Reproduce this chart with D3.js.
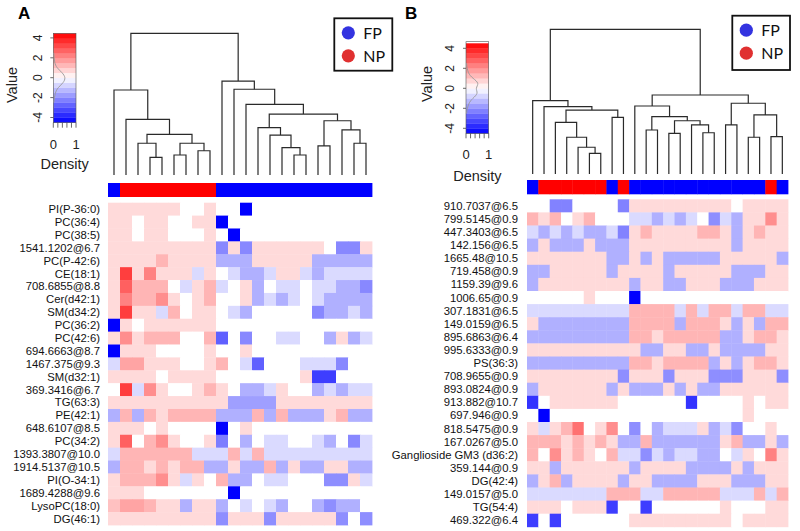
<!DOCTYPE html>
<html>
<head>
<meta charset="utf-8">
<script src="https://cdn.jsdelivr.net/npm/d3@7"></script>
<style>
  body { margin: 0; background: #fff; }
  svg { display: block; font-family: "Liberation Sans", Arial, sans-serif; }
</style>
</head>
<body>
<svg id="chart" width="800" height="531"></svg>
<script>
"use strict";

// ---- data: panel A ----
var rowsA = ["PI(P-36:0)", "PC(36:4)", "PC(38:5)", "1541.1202@6.7", "PC(P-42:6)", "CE(18:1)",
  "708.6855@8.8", "Cer(d42:1)", "SM(d34:2)", "PC(36:2)", "PC(42:6)", "694.6663@8.7",
  "1467.375@9.3", "SM(d32:1)", "369.3416@6.7", "TG(63:3)", "PE(42:1)", "648.6107@8.5",
  "PC(34:2)", "1393.3807@10.0", "1914.5137@10.5", "PI(O-34:1)", "1689.4288@9.6",
  "LysoPC(18:0)", "DG(46:1)"];

var groupsA = ["FP", "NP", "NP", "NP", "NP", "NP", "NP", "NP", "NP", "FP", "FP", "FP",
  "FP", "FP", "FP", "FP", "FP", "FP", "FP", "FP", "FP", "FP"];

var valuesA = [
  [.65,.65,.65,.65,.65,.65,0,0,.65,0,0,-4.5,0,0,0,0,0,0,0,0,0,0],
  [.65,.65,0,.65,.65,0,0,.65,.65,-4.5,0,0,0,0,0,0,0,0,0,0,0,0],
  [.65,.65,0,.65,.65,0,0,0,.65,0,-4.5,0,0,0,0,0,0,0,0,0,0,0],
  [.65,.65,.65,.65,.65,.65,.65,.65,.65,-2.1,.65,-2.1,.65,.65,.65,.65,.65,.65,0,-2.1,-2.1,.65],
  [.65,.65,.65,.65,1.3,.65,.65,.65,.65,-1.4,-1.4,-1.4,.65,.65,.65,.65,.65,-1.4,-1.4,-1.4,-1.4,-1.4],
  [.65,3.4,.65,2.2,.65,.65,.65,-.65,.65,0,-.65,-1.4,-1.4,-.65,.65,.65,-.65,-1.4,-.65,-.65,-.65,-.65],
  [.65,2.8,1.3,1.3,1.3,0,-.65,.65,1.3,-.65,0,.65,-1.4,0,-.65,-.65,0,-.65,-.65,-1.4,-1.4,-2.1],
  [.65,2.2,1.3,1.3,2.0,.65,0,.65,1.3,0,0,.65,-1.4,-.65,-1.4,-.65,0,-.65,-1.4,-1.4,-1.4,-1.4],
  [.65,3.4,.65,.65,-.65,1.3,0,.65,.65,0,-.65,-1.4,0,0,0,0,0,-2.1,-1.4,-1.4,-.65,-1.4],
  [-4.5,.65,0,.65,.65,.65,.65,.65,.65,0,0,0,0,0,0,0,0,0,0,0,0,0],
  [.65,2.0,.65,1.3,1.3,1.3,0,0,1.3,-2.8,0,-2.1,0,0,-.65,-.65,0,0,-1.4,.65,-1.4,-.65],
  [-4.5,.65,.65,.65,0,0,0,0,.65,0,0,.65,0,0,0,0,0,0,0,0,0,0],
  [-.65,1.6,1.6,.65,.65,.65,0,0,.65,1.3,0,-.65,-2.8,0,0,0,-.65,-.65,-.65,-2.1,0,0],
  [.65,.65,.65,.65,0,.65,.65,.65,.65,0,0,0,0,0,0,0,.65,-3.4,-3.4,0,0,0],
  [0,3.4,-.65,2.0,.65,0,0,.65,1.3,.65,0,-1.4,-1.4,-.65,.65,0,0,-1.4,-.65,-1.4,-.65,-.65],
  [.65,.65,.65,.65,.65,.65,.65,.65,.65,.65,-1.7,-1.7,-1.7,-1.7,.65,.65,.65,.65,.65,.65,.65,.65],
  [-1.4,1.3,-1.4,1.3,.65,1.3,1.3,1.3,1.3,-1.4,-1.4,-1.4,1.3,-1.4,1.3,-1.4,-1.4,-1.4,.65,1.3,-1.4,-1.4],
  [.65,.65,.65,0,.65,0,0,0,0,-4.5,0,.65,0,0,0,0,0,0,0,0,0,0],
  [.65,2.8,0,1.3,2.0,.65,0,0,.65,-2.3,0,-1.4,0,-.65,-.65,0,0,-.65,-1.4,0,-2.1,-.65],
  [-.65,1.3,1.3,1.3,1.3,1.3,1.3,-.65,-.65,-.65,1.3,-.65,1.3,-.65,-.65,-.65,-.65,-.65,-.65,-.65,-.65,-.65],
  [-1.4,1.3,1.3,.65,1.3,.65,1.3,1.3,-1.4,-1.4,.65,-1.4,-1.4,1.3,-1.4,.65,-1.4,-1.4,.65,.65,-1.4,-1.4],
  [.65,1.3,1.3,1.3,2.0,.65,-.65,.65,0,1.3,-1.4,-1.4,0,-.65,-.65,0,0,0,-2.0,-2.0,.65,-.65],
  [.65,.65,.65,0,0,0,0,0,0,0,-4.5,0,0,0,0,0,0,0,0,0,0,0],
  [1.1,1.6,1.6,1.3,.65,.65,-1.4,.65,.65,-1.4,0,-.65,0,-.65,-1.4,0,0,-1.4,-2.0,-1.4,-1.4,0],
  [.65,.65,.65,.65,.65,.65,.65,.65,.65,-2.0,.65,.65,.65,-2.0,.65,.65,.65,.65,.65,-2.0,0,-2.0]
];

// column dendrogram: [merge height, left, right], leaves are column indices
var treeA = [10,
  [6.0, 0, [3.93, 1, [2.87, [2.24, 2, [1.25, 3, 4]], [2.24, [1.41, 5, 6], [1.71, 7, 8]]]]],
  [6.63, 9, [6.05, 10, [4.99, 11, [4.30,
    [3.34, 12, [2.82, 13, [1.93, 14, [1.41, 15, 16]]]],
    [3.83, [2.05, 17, 18], [3.18, 19, [2.24, 20, 21]]]]]]]];

// ---- data: panel B ----
var rowsB = ["910.7037@6.5", "799.5145@0.9", "447.3403@6.5", "142.156@6.5", "1665.48@10.5",
  "719.458@0.9", "1159.39@9.6", "1006.65@0.9", "307.1831@6.5", "149.0159@6.5", "895.6863@6.4",
  "995.6333@0.9", "PS(36:3)", "708.9655@0.9", "893.0824@0.9", "913.882@10.7", "697.946@0.9",
  "818.5475@0.9", "167.0267@5.0", "Ganglioside GM3 (d36:2)", "359.144@0.9", "DG(42:4)",
  "149.0157@5.0", "TG(54:4)", "469.322@6.4"];

var groupsB = ["FP", "NP", "NP", "NP", "NP", "NP", "NP", "FP", "NP", "FP", "FP", "FP",
  "FP", "FP", "FP", "FP", "FP", "FP", "FP", "FP", "FP", "NP", "FP"];

var valuesB = [
  [0,0,-2.2,-2.2,0,0,0,0,-2.2,.65,.65,.65,.65,.65,.65,.65,.65,.65,0,.65,.65,.65,.65],
  [1.3,.65,1.3,0,.65,1.3,0,0,0,-.65,-.65,-1.4,-.65,-1.4,-.65,0,-2.0,-.65,-1.4,.65,.65,2.0,.65],
  [-.65,-1.4,-.65,-1.4,-.65,-1.4,-1.4,-.65,-2.2,.65,1.3,.65,.65,.65,.65,1.3,1.3,.65,-1.4,.65,1.3,.65,.65],
  [-1.4,.65,-1.4,-1.4,-1.4,.65,-1.4,-1.4,-1.4,.65,.65,.65,.65,.65,.65,.65,.65,.65,-1.4,.65,.65,.65,.65],
  [.65,.65,.65,.65,.65,.65,.65,-1.4,-1.4,.65,-1.4,.65,-1.4,-1.4,-1.4,-1.4,-1.4,.65,.65,.65,.65,.65,-1.4],
  [-1.4,-1.4,.65,.65,.65,.65,.65,-1.4,.65,.65,.65,.65,-1.4,.65,.65,.65,.65,.65,-1.4,-1.4,-1.4,.65,.65],
  [-1.4,.65,.65,.65,.65,.65,.65,.65,.65,-1.4,.65,.65,-1.4,-1.4,.65,.65,.65,-1.4,-1.4,-1.4,.65,.65,.65],
  [0,0,0,0,0,.65,0,0,0,-4.5,0,0,0,0,0,0,0,0,0,0,0,0,0],
  [-.65,-.65,-.65,-.65,-.65,-.65,-.65,-.65,-.65,1.3,1.3,1.3,1.3,-.65,1.3,-.65,1.3,1.3,-.65,1.3,1.3,-.65,-.65],
  [.65,-1.4,-1.4,-1.4,-1.4,-1.4,-1.4,-1.4,-1.4,1.3,1.3,1.3,1.3,-1.4,1.3,1.3,1.3,.65,-1.4,.65,-1.4,1.3,1.3],
  [-1.4,-1.4,-1.4,-1.4,-1.4,-1.4,-1.4,-1.4,-1.4,1.3,1.3,.65,1.3,1.3,1.3,1.3,1.3,-1.4,-1.4,.65,1.3,1.3,.65],
  [.65,.65,.65,.65,.65,.65,.65,.65,.65,.65,-1.4,-1.4,.65,.65,-1.4,-1.4,.65,-1.4,-1.4,-1.4,-1.4,.65,.65],
  [-1.4,-1.4,-1.4,-1.4,-1.4,-1.4,-1.4,-1.4,-1.4,1.3,1.3,.65,1.3,1.3,1.3,1.3,-1.4,.65,-1.4,.65,1.3,1.3,.65],
  [.65,.65,.65,.65,.65,.65,.65,.65,-2.0,.65,.65,.65,-2.0,.65,.65,.65,-2.0,-2.0,-2.0,.65,.65,.65,-2.0],
  [-1.4,.65,.65,.65,.65,.65,.65,-1.4,.65,-1.4,-1.4,-1.4,.65,-1.4,.65,-1.4,-1.4,.65,.65,.65,.65,.65,.65],
  [-3.6,0,.65,.65,.65,.65,.65,.65,0,0,0,0,0,0,-3.6,0,0,0,0,.65,0,.65,.65],
  [0,-4.5,0,0,0,0,0,0,0,0,0,0,0,0,0,0,0,0,0,.65,0,0,0],
  [.65,-.65,.65,1.3,2.5,0,.65,2.0,0,-2.0,0,-1.4,-.65,-.65,-.65,.65,-1.4,-.65,-2.0,0,0,.65,0],
  [1.3,1.3,1.3,.65,1.3,.65,1.3,.65,-1.4,-1.4,1.3,-1.4,-1.4,-1.4,-1.4,-1.4,-1.4,.65,1.3,-1.4,-1.4,.65,-1.4],
  [1.3,0,2.0,.65,1.3,.65,0,1.3,-.65,-.65,-2.0,-.65,-1.4,-.65,-.65,-1.4,-1.4,0,-.65,.65,0,2.2,.65],
  [.65,.65,-1.4,.65,.65,.65,.65,.65,.65,-1.4,.65,.65,.65,.65,-1.4,-1.4,-1.4,-1.4,.65,-1.4,.65,.65,.65],
  [-1.4,.65,1.3,-1.4,.65,.65,.65,.65,-1.4,.65,.65,-1.4,-1.4,-1.4,-1.4,.65,.65,.65,-1.4,-1.4,-1.4,.65,.65],
  [-.65,-.65,-.65,-.65,-.65,-.65,-.65,1.3,1.3,1.3,-.65,-.65,1.3,1.3,1.3,1.3,1.3,-.65,-.65,-.65,1.3,-.65,1.3],
  [.65,.65,.65,0,.65,.65,.65,-3.4,0,0,-3.4,0,0,0,0,0,0,.65,0,0,0,.65,.65],
  [-3.4,0,-3.4,0,0,0,0,0,0,.65,.65,.65,.65,.65,.65,.65,.65,.65,0,.65,.65,.65,.65]
];

var treeB = [10,
  [5.07, 0, [4.65, 1, [4.42, [3.57, 2, [2.54, 3, [1.85, 4, [1.43, 5, 6]]]], [3.92, 7, 8]]]],
  [5.46,
    [4.70, 9, [3.96, [3.04, 10, 11], [3.68, [2.81, 12, 13], [3.39, 14, [2.85, 15, 16]]]]],
    [4.89, [3.39, 17, 18], [4.08, [2.54, 19, 20], [2.58, 21, 22]]]]];

// colour key
var keyTicks = [-4, -2, 0, 2, 4];
var densityTicks = [0, 1];
var densityLevels = [-2.5, -1.5, -1, -0.5, 0, 0.5, 1, 1.5, 2.5];
var densityA = [0.02, 0.08, 0.2, 0.45, 0.55, 0.4, 0.15, 0.05, 0.02];
var densityB = [0.02, 0.1, 0.3, 0.55, 0.4, 0.6, 0.3, 0.08, 0.02];

var legendItems = ["FP", "NP"];
var groupColor = { FP: "#0000ff", NP: "#ff0000" };
var legendColor = { FP: "#3333e0", NP: "#e03030" };

var colorScale = d3.scaleLinear()
  .domain([-4.5, 0, 4.5])
  .range(["#0000ff", "#ffffff", "#ff0000"])
  .clamp(true);

var svg = d3.select("#chart");

// layout of each panel
var panelA = {
  letter: "A", letterX: 18, letterY: 19,
  x0: 108, x1: 372, y0: 202.7, y1: 525,
  barY: 183, barH: 14,
  leafY: 175, rootY: 33.3,
  labelX: 100,
  key: { x: 53.3, w: 22.7, top: 33.3, bottom: 122.7, vTop: 37.9, vBottom: 117.5,
         tickX: 38, valueX: 12, valueY: 85, numY: 149, densY: 169 },
  legend: { x: 334.3, y: 18.3, w: 58, h: 52.4 },
  density: densityA
};

var panelB = {
  letter: "B", letterX: 405, letterY: 19,
  x0: 527, x1: 788, y0: 199.3, y1: 526.8,
  barY: 180, barH: 14.3,
  leafY: 174, rootY: 29.3,
  labelX: 518,
  key: { x: 466, w: 22.7, top: 41.7, bottom: 133.3, vTop: 48.3, vBottom: 128.3,
         tickX: 449.5, valueX: 427, valueY: 84, numY: 159, densY: 181 },
  legend: { x: 732.3, y: 15.7, w: 57.7, h: 54.3 },
  density: densityB
};

function layoutTree(node, x) {
  if (typeof node === "number") {
    return { x: x(node) + x.bandwidth() / 2, h: 0 };
  }
  var a = layoutTree(node[1], x);
  var b = layoutTree(node[2], x);
  return { x: (a.x + b.x) / 2, h: node[0], kids: [a, b] };
}

function collect(n, out) {
  if (!n.kids) return out;
  collect(n.kids[0], out);
  collect(n.kids[1], out);
  out.push(n);
  return out;
}

function drawPanel(p, rows, groups, values, tree) {
  var g = svg.append("g");

  var x = d3.scaleBand().domain(d3.range(groups.length)).range([p.x0, p.x1]);
  var y = d3.scaleBand().domain(d3.range(rows.length)).range([p.y0, p.y1]);
  var hs = d3.scaleLinear().domain([0, 10]).range([p.leafY, p.rootY]);

  // panel letter
  g.append("text")
    .attr("x", p.letterX).attr("y", p.letterY)
    .attr("font-size", 17).attr("font-weight", "bold")
    .text(p.letter);

  // heatmap cells
  var cells = [];
  values.forEach(function (row, r) {
    row.forEach(function (v, c) { cells.push({ r: r, c: c, v: v }); });
  });
  g.append("g").selectAll("rect")
    .data(cells)
    .enter().append("rect")
    .attr("x", function (d) { return x(d.c); })
    .attr("y", function (d) { return y(d.r); })
    .attr("width", x.bandwidth() + 0.4)
    .attr("height", y.bandwidth() + 0.4)
    .attr("fill", function (d) { return colorScale(d.v); });

  // group colour bar
  g.append("g").selectAll("rect")
    .data(groups)
    .enter().append("rect")
    .attr("x", function (d, i) { return x(i); })
    .attr("y", p.barY)
    .attr("width", x.bandwidth() + 0.4)
    .attr("height", p.barH)
    .attr("fill", function (d) { return groupColor[d]; });

  // row labels
  g.append("g").selectAll("text")
    .data(rows)
    .enter().append("text")
    .attr("x", p.labelX)
    .attr("y", function (d, i) { return y(i) + y.bandwidth() / 2; })
    .attr("dy", "0.35em")
    .attr("text-anchor", "end")
    .attr("font-size", 11.3)
    .attr("fill", "#111")
    .text(function (d) { return d; });

  // dendrogram
  var root = layoutTree(tree, x);
  var nodes = collect(root, []);
  g.append("g").selectAll("path")
    .data(nodes)
    .enter().append("path")
    .attr("d", function (n) {
      var a = n.kids[0], b = n.kids[1];
      return "M" + a.x + "," + hs(a.h) + "V" + hs(n.h) + "H" + b.x + "V" + hs(b.h);
    })
    .attr("fill", "none")
    .attr("stroke", "#2a2a2a")
    .attr("stroke-width", 1.2);

  // colour key
  var k = p.key;
  var ks = d3.scaleLinear().domain([-4, 4]).range([k.vBottom, k.vTop]);
  var bands = d3.range(-4.5, 4.5, 0.5);
  g.append("g").selectAll("rect")
    .data(bands)
    .enter().append("rect")
    .attr("x", k.x)
    .attr("y", function (d) { return Math.max(k.top, ks(d + 0.5)); })
    .attr("width", k.w)
    .attr("height", function (d) {
      return Math.min(k.bottom, ks(d)) - Math.max(k.top, ks(d + 0.5)) + 0.3;
    })
    .attr("fill", function (d) { return colorScale(d + 0.25); });

  g.append("rect")
    .attr("x", k.x).attr("y", k.top)
    .attr("width", k.w).attr("height", k.bottom - k.top)
    .attr("fill", "none").attr("stroke", "#555").attr("stroke-width", 0.6);

  // density trace
  var dx = d3.scaleLinear().domain([0, 1]).range([k.x, k.x + k.w]);
  g.append("path")
    .datum(densityLevels)
    .attr("d", d3.line()
      .x(function (d, i) { return dx(p.density[i]); })
      .y(function (d) { return ks(d); })
      .curve(d3.curveBasis))
    .attr("fill", "none")
    .attr("stroke", "#999")
    .attr("stroke-width", 0.9);

  // value ticks (left)
  g.append("g").selectAll("line")
    .data(keyTicks)
    .enter().append("line")
    .attr("x1", k.x - 3).attr("x2", k.x)
    .attr("y1", function (d) { return ks(d); })
    .attr("y2", function (d) { return ks(d); })
    .attr("stroke", "#444").attr("stroke-width", 0.8);

  g.append("g").selectAll("text")
    .data(keyTicks)
    .enter().append("text")
    .attr("transform", function (d) {
      return "translate(" + k.tickX + "," + ks(d) + ") rotate(-90)";
    })
    .attr("text-anchor", "middle")
    .attr("dy", "0.35em")
    .attr("font-size", 12)
    .attr("fill", "#222")
    .text(function (d) { return d; });

  g.append("text")
    .attr("transform", "translate(" + k.valueX + "," + k.valueY + ") rotate(-90)")
    .attr("text-anchor", "middle")
    .attr("dy", "0.35em")
    .attr("font-size", 14.5)
    .attr("fill", "#222")
    .text("Value");

  // density ticks (bottom)
  g.append("g").selectAll("line")
    .data(d3.range(0, 1.01, 0.2))
    .enter().append("line")
    .attr("x1", function (d) { return dx(d); })
    .attr("x2", function (d) { return dx(d); })
    .attr("y1", k.bottom).attr("y2", k.bottom + 5)
    .attr("stroke", "#444").attr("stroke-width", 0.8);

  g.append("g").selectAll("text")
    .data(densityTicks)
    .enter().append("text")
    .attr("x", function (d) { return dx(d); })
    .attr("y", k.numY)
    .attr("text-anchor", "middle")
    .attr("font-size", 13)
    .attr("fill", "#222")
    .text(function (d) { return d; });

  g.append("text")
    .attr("x", k.x + k.w / 2)
    .attr("y", k.densY)
    .attr("text-anchor", "middle")
    .attr("font-size", 14.5)
    .attr("fill", "#222")
    .text("Density");

  // legend
  var L = p.legend;
  g.append("rect")
    .attr("x", L.x).attr("y", L.y)
    .attr("width", L.w).attr("height", L.h)
    .attr("fill", "#fff").attr("stroke", "#111").attr("stroke-width", 1.8);

  var li = g.append("g").selectAll("g")
    .data(legendItems)
    .enter().append("g")
    .attr("transform", function (d, i) {
      return "translate(" + (L.x + 14) + "," + (L.y + 14.5 + i * 23) + ")";
    });
  li.append("circle")
    .attr("r", 6.6)
    .attr("fill", function (d) { return legendColor[d]; });
  li.append("text")
    .attr("x", 15)
    .attr("dy", "0.36em")
    .attr("font-family", "Lato, 'Open Sans', sans-serif")
    .attr("font-size", 16)
    .attr("fill", "#111")
    .text(function (d) { return d; });
}

drawPanel(panelA, rowsA, groupsA, valuesA, treeA);
drawPanel(panelB, rowsB, groupsB, valuesB, treeB);
</script>
</body>
</html>
